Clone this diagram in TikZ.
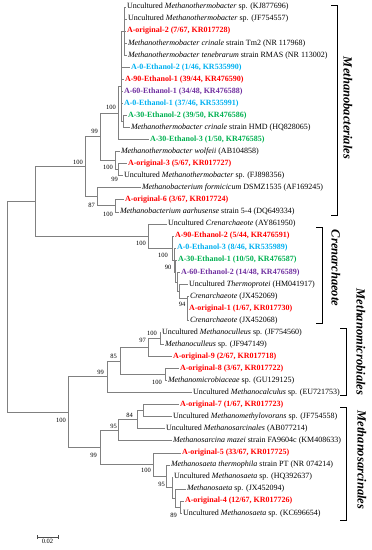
\documentclass[tikz,border=0pt]{standalone}
\usepackage{fontspec}
\setmainfont{Liberation Serif}
\usetikzlibrary{positioning}
\definecolor{colTree}{RGB}{128,128,128}
\definecolor{colOrig}{RGB}{255,0,0}
\definecolor{colEthZero}{RGB}{0,176,240}
\definecolor{colEthThirty}{RGB}{0,176,80}
\definecolor{colEthSixty}{RGB}{112,48,160}

\begin{document}
\begin{tikzpicture}[x=1pt, y=-1pt,
  leaf/.style={anchor=west, inner sep=0.8pt, font=\fontsize{8}{9}\selectfont},
  hit/.style={leaf, font=\fontsize{8}{9}\selectfont\bfseries},
  boot/.style={anchor=east, inner sep=0pt, font=\fontsize{6.5}{7}\selectfont},
  br/.style={draw=colTree, line width=0.7pt},
  brk/.style={draw=black, line width=0.6pt},
  clade/.style={rotate=-90, inner sep=0pt, font=\fontsize{12.5}{13}\selectfont\bfseries\itshape},
]
\useasboundingbox (0,0) rectangle (372,550);

% leaves
\node[leaf] (l1) at (126,7.0) {Uncultured \textit{Methanothermobacter} sp. (KJ877696)};
\node[leaf] (l2) at (127,19.05) {Uncultured \textit{Methanothermobacter} sp. (JF754557)};
\node[hit, colOrig] (l3) at (126,31.1) {A-original-2 (7/67, KR017728)};
\node[leaf] (l4) at (127,43.15) {\textit{Methanothermobacter crinale} strain Tm2 (NR 117968)};
\node[leaf] (l5) at (127,55.2) {\textit{Methanothermobacter tenebrarum} strain RMAS (NR 113002)};
\node[hit, colEthZero] (l6) at (130,67.25) {A-0-Ethanol-2 (1/46, KR535990)};
\node[hit, colOrig] (l7) at (124,79.3) {A-90-Ethanol-1 (39/44, KR476590)};
\node[hit, colEthSixty] (l8) at (123,91.35) {A-60-Ethanol-1 (34/48, KR476588)};
\node[hit, colEthZero] (l9) at (123,103.4) {A-0-Ethanol-1 (37/46, KR535991)};
\node[hit, colEthThirty] (l10) at (127,115.45) {A-30-Ethanol-2 (39/50, KR476586)};
\node[leaf] (l11) at (130,127.5) {\textit{Methanothermobacter crinale} strain HMD (HQ828065)};
\node[hit, colEthThirty] (l12) at (149,139.55) {A-30-Ethanol-3 (1/50, KR476585)};
\node[leaf] (l13) at (120,151.6) {\textit{Methanothermobacter wolfeii} (AB104858)};
\node[hit, colOrig] (l14) at (127,163.65) {A-original-3 (5/67, KR017727)};
\node[leaf] (l15) at (123,175.7) {Uncultured \textit{Methanothermobacter} sp. (FJ898356)};
\node[leaf] (l16) at (141,187.75) {\textit{Methanobacterium formicicum} DSMZ1535 (AF169245)};
\node[hit, colOrig] (l17) at (124,199.8) {A-original-6 (3/67, KR017724)};
\node[leaf] (l18) at (119,211.85) {\textit{Methanobacterium aarhusense} strain 5-4 (DQ649334)};
\node[leaf] (l19) at (167,223.9) {Uncultured \textit{Crenarchaeote} (AY861950)};
\node[hit, colOrig] (l20) at (174,235.95) {A-90-Ethanol-2 (5/44, KR476591)};
\node[hit, colEthZero] (l21) at (176,248) {A-0-Ethanol-3 (8/46, KR535989)};
\node[hit, colEthThirty] (l22) at (177,260.05) {A-30-Ethanol-1 (10/50, KR476587)};
\node[hit, colEthSixty] (l23) at (180,272.1) {A-60-Ethanol-2 (14/48, KR476589)};
\node[leaf] (l24) at (188,284.15) {Uncultured \textit{Thermoprotei} (HM041917)};
\node[leaf] (l25) at (189,296.2) {\textit{Crenarchaeote} (JX452069)};
\node[hit, colOrig] (l26) at (188,308.25) {A-original-1 (1/67, KR017730)};
\node[leaf] (l27) at (189,320.3) {\textit{Crenarchaeote} (JX452068)};
\node[leaf] (l28) at (161,332.35) {Uncultured \textit{Methanoculleus} sp. (JF754560)};
\node[leaf] (l29) at (164,344.4) {\textit{Methanoculleus} sp. (JF947149)};
\node[hit, colOrig] (l30) at (172,356.45) {A-original-9 (2/67, KR017718)};
\node[hit, colOrig] (l31) at (179,368.5) {A-original-8 (3/67, KR017722)};
\node[leaf] (l32) at (167,380.55) {\textit{Methanomicrobiaceae} sp. (GU129125)};
\node[leaf] (l33) at (192,392.6) {Uncultured \textit{Methanocalculus} sp. (EU721753)};
\node[hit, colOrig] (l34) at (179,404.65) {A-original-7 (1/67, KR017723)};
\node[leaf] (l35) at (172,416.7) {Uncultured \textit{Methanomethylovorans} sp. (JF754558)};
\node[leaf] (l36) at (165,428.75) {Uncultured \textit{Methanosarcinales} (AB077214)};
\node[leaf] (l37) at (172,440.8) {\textit{Methanosarcina mazei} strain FA9604c (KM408633)};
\node[hit, colOrig] (l38) at (181,452.85) {A-original-5 (33/67, KR017725)};
\node[leaf] (l39) at (170,464.9) {\textit{Methanosaeta thermophila} strain PT (NR 074214)};
\node[leaf] (l40) at (173,476.95) {Uncultured \textit{Methanosaeta} sp. (HQ392637)};
\node[leaf] (l41) at (186,489) {\textit{Methanosaeta} sp. (JX452094)};
\node[hit, colOrig] (l42) at (184,501.05) {A-original-4 (12/67, KR017726)};
\node[leaf] (l43) at (182,513.1) {Uncultured \textit{Methanosaeta} sp. (KC696654)};

% inner nodes
\coordinate (root) at (7,306.8);
\coordinate (nA) at (35,201.4);
\coordinate (nMB) at (85,166.8);
\coordinate (nM2) at (100,136.8);
\coordinate (nM1) at (118,113);
\coordinate (nG) at (121,86.5);
\coordinate (nP) at (124,31.1);
\coordinate (nQ) at (123,121.5);
\coordinate (nM3) at (115,160.6);
\coordinate (nN) at (118,169.7);
\coordinate (nM4) at (97,196.8);
\coordinate (nM5) at (115,205.8);
\coordinate (nC) at (148,235.95);
\coordinate (nC2) at (172,248);
\coordinate (nC3) at (174,260.05);
\coordinate (nC4) at (175.5,272.1);
\coordinate (nC5) at (177,282);
\coordinate (nC6) at (179,291);
\coordinate (nC7) at (187,298);
\coordinate (nB) at (68,412.1);
\coordinate (nD) at (107,376.8);
\coordinate (nD2) at (120,361);
\coordinate (nD3) at (148,347.4);
\coordinate (nD4) at (160,338.4);
\coordinate (nD5) at (165,374.5);
\coordinate (nE) at (100,447.4);
\coordinate (nF) at (118,430.3);
\coordinate (nF2) at (137,419.7);
\coordinate (nF3) at (143,410.7);
\coordinate (nS) at (153,464.5);
\coordinate (nS2) at (166,476.2);
\coordinate (nS3) at (172,487.5);
\coordinate (nS4) at (175,498);
\coordinate (nS5) at (180,507.1);

% branches
\draw[br] (root) |- (nA) (root) |- (nB);
\draw[br] (nA) |- (nMB) (nA) |- (nC);
\draw[br] (nMB) |- (nM2) (nMB) |- (nM4);
\draw[br] (nM2) |- (nM1) (nM2) |- (nM3);
\draw[br] (nM1) |- (nG) (nM1) |- (l12.west);
\draw[br] (nG) |- (nP) (nG) |- (l6.west) (nG) |- (l7.west)
          (nG) |- (l8.west) (nG) |- (l9.west) (nG) |- (nQ);
\foreach \i in {1,...,5} \draw[br] (nP) |- (l\i.west);
\draw[br] (nQ) |- (l10.west) (nQ) |- (l11.west);
\draw[br] (nM3) |- (l13.west) (nM3) |- (nN);
\draw[br] (nN) |- (l14.west) (nN) |- (l15.west);
\draw[br] (nM4) |- (l16.west) (nM4) |- (nM5);
\draw[br] (nM5) |- (l17.west) (nM5) |- (l18.west);
\draw[br] (nC) |- (l19.west) (nC) |- (nC2);
\draw[br] (nC2) |- (l20.west) (nC2) |- (nC3);
\draw[br] (nC3) |- (l21.west) (nC3) |- (nC4);
\draw[br] (nC4) |- (l22.west) (nC4) |- (nC5);
\draw[br] (nC5) |- (l23.west) (nC5) |- (nC6);
\draw[br] (nC6) |- (l24.west) (nC6) |- (nC7);
\foreach \i in {25,...,27} \draw[br] (nC7) |- (l\i.west);
\draw[br] (nB) |- (nD) (nB) |- (nE);
\draw[br] (nD) |- (nD2) (nD) |- (l33.west);
\draw[br] (nD2) |- (nD3) (nD2) |- (nD5);
\draw[br] (nD3) |- (nD4) (nD3) |- (l30.west);
\draw[br] (nD4) |- (l28.west) (nD4) |- (l29.west);
\draw[br] (nD5) |- (l31.west) (nD5) |- (l32.west);
\draw[br] (nE) |- (nF) (nE) |- (nS);
\draw[br] (nF) |- (nF2) (nF) |- (l37.west);
\draw[br] (nF2) |- (nF3) (nF2) |- (l36.west);
\draw[br] (nF3) |- (l34.west) (nF3) |- (l35.west);
\draw[br] (nS) |- (l38.west) (nS) |- (nS2);
\draw[br] (nS2) |- (l39.west) (nS2) |- (nS3);
\draw[br] (nS3) |- (l40.west) (nS3) |- (nS4);
\draw[br] (nS4) |- (l41.west) (nS4) |- (nS5);
\draw[br] (nS5) |- (l42.west) (nS5) |- (l43.west);

% bootstrap values
\node[boot] (bM1) at (116,107) {100};
\node[boot] (bM2) at (98,131) {99};
\node[boot] (bM3) at (113,167) {100};
\node[boot] (bN) at (118,179) {99};
\node[boot] (bMB) at (83,162) {100};
\node[boot] (bM4) at (95,205) {87};
\node[boot] (bM5) at (113,214) {100};
\node[boot] (bC) at (146,243) {100};
\node[boot] (bC2) at (168,255) {100};
\node[boot] (bC3) at (171.5,267) {90};
\node[boot] (bC7) at (185.5,304) {94};
\node[boot] (bB) at (66,420) {100};
\node[boot] (bD) at (104,372) {99};
\node[boot] (bD2) at (117,356) {85};
\node[boot] (bD3) at (146,340) {97};
\node[boot] (bD4) at (157,333) {100};
\node[boot] (bD5) at (162,382) {100};
\node[boot] (bE) at (97,455) {99};
\node[boot] (bF) at (117,426) {95};
\node[boot] (bF2) at (133,415) {84};
\node[boot] (bS) at (151,470) {100};
\node[boot] (bS2) at (165,484) {95};
\node[boot] (bS5) at (177,515) {89};

% clade brackets
\coordinate (kMBt) at (337,5);
\coordinate (kMBb) at (337,215);
\coordinate (kCRt) at (322,227);
\coordinate (kCRb) at (322,323);
\coordinate (kMMt) at (346,328);
\coordinate (kMMb) at (346,395);
\coordinate (kMSt) at (346,407);
\coordinate (kMSb) at (346,520);
\draw[brk] ([xshift=-6pt]kMBt) -- (kMBt) -- (kMBb) -- ([xshift=-6pt]kMBb);
\draw[brk] ([xshift=-6pt]kCRt) -- (kCRt) -- (kCRb) -- ([xshift=-6pt]kCRb);
\draw[brk] ([xshift=-6pt]kMMt) -- (kMMt) -- (kMMb) -- ([xshift=-6pt]kMMb);
\draw[brk] ([xshift=-6pt]kMSt) -- (kMSt) -- (kMSb) -- ([xshift=-6pt]kMSb);
\node[clade] (tMB) at (348,108) {Methanobacteriales};
\node[clade] (tCR) at (336,268) {Crenarchaeote};
\node[clade] (tMM) at (361,342) {Methanomicrobiales};
\node[clade] (tMS) at (362,460) {Methanosarcinales};

% scale bar
\coordinate (sbL) at (37,537);
\coordinate (sbR) at (58,537);
\coordinate (sbM) at (47.5,537);
\draw[br, draw=black!70] (sbL) -- (sbR);
\draw[br, draw=black!70] ([yshift=-2pt]sbL) -- ([yshift=2pt]sbL);
\draw[br, draw=black!70] ([yshift=-2pt]sbR) -- ([yshift=2pt]sbR);
\node[boot, anchor=north, below=2pt of sbM] (sbT) {0.02};
\end{tikzpicture}
\end{document}
